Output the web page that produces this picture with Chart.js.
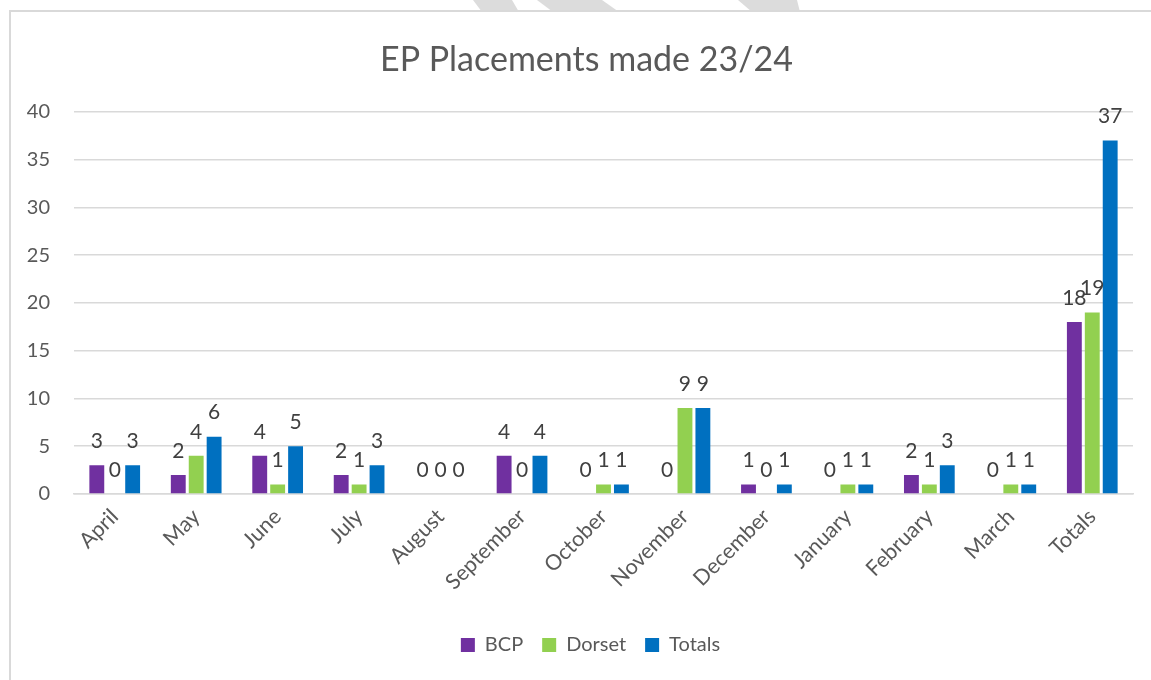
<!DOCTYPE html>
<html>
<head>
<meta charset="utf-8">
<script src="https://cdn.jsdelivr.net/npm/chart.js@4.4.1/dist/chart.umd.min.js"></script>
<style>
  body { margin: 0; background: #fff; width: 1151px; height: 680px; overflow: hidden; position: relative; }
  #marca { position: absolute; left: 0; top: 0; }
  #caja { position: absolute; left: 9px; top: 10px; width: 1160px; height: 700px; border: 2px solid #d9d9d9; background: #fff; }
  #myChart { position: absolute; left: 0; top: 0; }
</style>
</head>
<body>
<svg id="marca" width="1151" height="14">
  <polygon points="473,0 512,0 519,12 482,12" fill="#dcdcdc"/>
  <polygon points="537,0 602,0 619,12 553,12" fill="#dcdcdc"/>
  <polygon points="738,0 797,0 800,12 752,12" fill="#dcdcdc"/>
</svg>
<div id="caja"></div>
<canvas id="myChart" width="1151" height="680"></canvas>
<script>
let meses = ["April", "May", "June", "July", "August", "September", "October", "November", "December", "January", "February", "March", "Totals"];
let bcp = [3, 2, 4, 2, 0, 4, 0, 0, 1, 0, 2, 0, 18];
let dorset = [0, 4, 1, 1, 0, 0, 1, 9, 0, 1, 1, 1, 19];
let totales = [3, 6, 5, 3, 0, 4, 1, 9, 1, 1, 3, 1, 37];
let yMax = 40;
let yPaso = 5;

let fuente = "Lato, 'Open Sans', sans-serif";
let gris = "#595959";

// etiquetas encima de cada barra
const etiquetas = {
  id: "etiquetas",
  afterDatasetsDraw(chart) {
    let ctx = chart.ctx;
    ctx.save();
    ctx.font = "21px " + fuente;
    ctx.fillStyle = "#404040";
    ctx.textAlign = "center";
    ctx.textBaseline = "middle";
    chart.data.datasets.forEach((ds, i) => {
      chart.getDatasetMeta(i).data.forEach((barra, j) => {
        ctx.fillText(ds.data[j], barra.x, barra.y - 24);
      });
    });
    ctx.restore();
  },
};

// centrar titulo y leyenda sobre la caja, no sobre el canvas
const centrar = {
  id: "centrar",
  afterLayout(chart) {
    if (chart.titleBlock) chart.titleBlock.left += 20;
    if (chart.legend) {
      chart.legend.left += 14;
      chart.legend.right += 14;
    }
  },
};

function crearData() {
  let datasets = [
    { label: "BCP", data: bcp, backgroundColor: "#7030a0" },
    { label: "Dorset", data: dorset, backgroundColor: "#92d050" },
    { label: "Totals", data: totales, backgroundColor: "#0070c0" },
  ];
  return { labels: meses, datasets };
}

const config = {
  type: "bar",
  data: crearData(),
  options: {
    responsive: false,
    devicePixelRatio: 1,
    animation: false,
    categoryPercentage: 0.66,
    barPercentage: 0.83,
    layout: { padding: { left: 20, right: 18, top: 12, bottom: 15 } },
    plugins: {
      title: {
        display: true,
        text: "EP Placements made 23/24",
        color: gris,
        font: { family: fuente, size: 34, weight: "normal" },
        padding: { top: 28, bottom: 31 },
      },
      legend: {
        position: "bottom",
        labels: {
          color: gris,
          font: { family: fuente, size: 20 },
          boxWidth: 14,
          boxHeight: 14,
          padding: 19,
        },
      },
      tooltip: { enabled: false },
    },
    scales: {
      x: {
        grid: { display: false, drawTicks: false },
        border: { color: "#d9d9d9", width: 1.5 },
        ticks: {
          color: gris,
          font: { family: fuente, size: 21.5 },
          minRotation: 45,
          maxRotation: 45,
          padding: 10,
        },
        afterFit(scale) { scale.height = 122; },
      },
      y: {
        min: 0,
        max: yMax,
        grid: { color: "#d9d9d9", lineWidth: 1.5, drawTicks: false },
        border: { display: false },
        ticks: {
          stepSize: yPaso,
          color: gris,
          font: { family: fuente, size: 20 },
          padding: 24,
        },
        afterFit(scale) { scale.width = 54; },
      },
    },
  },
  plugins: [etiquetas, centrar],
};

const ctx = document.getElementById("myChart");
let myChart = new Chart(ctx, config);
</script>
</body>
</html>
